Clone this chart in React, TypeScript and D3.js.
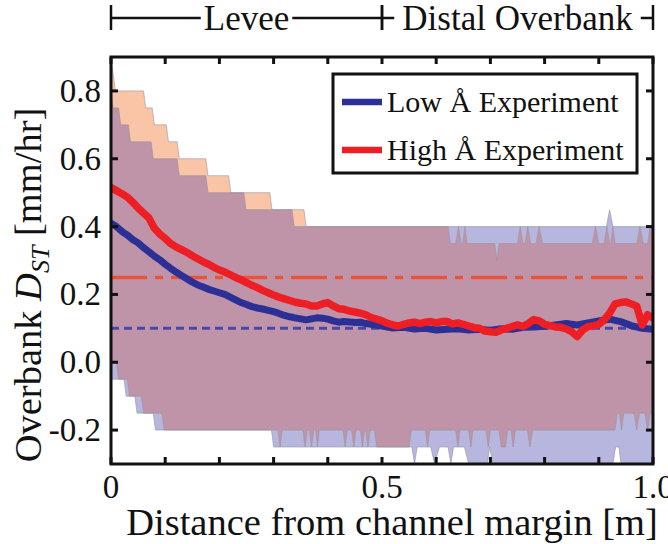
import React from 'react';
import * as d3 from 'd3';

// ---- data ----
const xTickValues = [0, 0.1, 0.2, 0.3, 0.4, 0.5, 0.6, 0.7, 0.8, 0.9, 1.0];
const xTickLabels: [number, string][] = [[0, '0'], [0.5, '0.5'], [1.0, '1.0']];
const yTickValues = [-0.2, 0, 0.2, 0.4, 0.6, 0.8];
const yTickLabels = ['-0.2', '0.0', '0.2', '0.4', '0.6', '0.8'];

const zones = [
  { name: 'Levee', from: 0, to: 0.5 },
  { name: 'Distal Overbank', from: 0.5, to: 1.0 },
];

const seriesNames = ['Low Å Experiment', 'High Å Experiment'];

// reference rates (mm/hr)
const lowReference = 0.1;
const highReference = 0.25;

// envelope of Low Å run: upper and lower edges [x, rate]
const lowUpper: [number, number][] = [
  [0, 0.8], [0.004, 0.75], [0.014, 0.75], [0.018, 0.7], [0.032, 0.7], [0.036, 0.65],
  [0.074, 0.65], [0.078, 0.6], [0.122, 0.6], [0.126, 0.55], [0.175, 0.55], [0.179, 0.5],
  [0.245, 0.5], [0.249, 0.45], [0.334, 0.45], [0.338, 0.4], [0.914, 0.4], [0.92, 0.45],
  [0.926, 0.4], [1, 0.4],
];
const lowLower: [number, number][] = [
  [0, -0.05], [0.024, -0.05], [0.028, -0.1], [0.044, -0.1], [0.048, -0.15], [0.078, -0.15],
  [0.082, -0.2], [0.296, -0.2], [0.3, -0.25], [0.555, -0.25], [0.56, -0.3], [0.565, -0.25],
  [0.59, -0.25], [0.597, -0.3], [0.606, -0.25], [0.622, -0.25], [0.627, -0.3], [0.632, -0.25],
  [0.652, -0.25], [0.66, -0.3], [0.694, -0.3], [0.699, -0.25], [0.704, -0.3], [0.926, -0.3],
  [0.931, -0.25], [0.937, -0.25], [0.941, -0.3], [1, -0.3],
];

// envelope of High Å run
const highUpper: [number, number][] = [
  [0, 0.9], [0.008, 0.8], [0.06, 0.8], [0.064, 0.75], [0.076, 0.75], [0.08, 0.7],
  [0.102, 0.7], [0.106, 0.65], [0.122, 0.65], [0.126, 0.6], [0.175, 0.6], [0.179, 0.55],
  [0.217, 0.55], [0.221, 0.5], [0.293, 0.5], [0.297, 0.45], [0.356, 0.45], [0.36, 0.4],
  [0.622, 0.4], [0.626, 0.35], [0.636, 0.35], [0.641, 0.4], [0.646, 0.35], [0.649, 0.35],
  [0.653, 0.4], [0.657, 0.35], [0.708, 0.35], [0.712, 0.3], [0.716, 0.35], [0.75, 0.35],
  [0.755, 0.4], [0.76, 0.35], [0.764, 0.35], [0.769, 0.4], [0.774, 0.35], [0.784, 0.35],
  [0.79, 0.4], [0.796, 0.35], [0.888, 0.35], [0.894, 0.4], [0.9, 0.35], [0.91, 0.35],
  [0.915, 0.4], [0.92, 0.35], [0.922, 0.35], [0.926, 0.4], [0.93, 0.35], [0.97, 0.35],
  [0.976, 0.4], [0.982, 0.35], [0.99, 0.35], [0.995, 0.4], [1, 0.4],
];
const highLower: [number, number][] = [
  [0, 0.0], [0.01, 0.0], [0.014, -0.05], [0.03, -0.05], [0.034, -0.1], [0.056, -0.1],
  [0.06, -0.15], [0.094, -0.15], [0.098, -0.2], [0.308, -0.2], [0.312, -0.25], [0.316, -0.2],
  [0.354, -0.2], [0.358, -0.25], [0.362, -0.2], [0.366, -0.2], [0.37, -0.25], [0.374, -0.2],
  [0.378, -0.2], [0.381, -0.25], [0.384, -0.2], [0.428, -0.2], [0.432, -0.25], [0.436, -0.2],
  [0.444, -0.2], [0.448, -0.25], [0.452, -0.2], [0.46, -0.2], [0.464, -0.25], [0.468, -0.2],
  [0.47, -0.2], [0.474, -0.25], [0.478, -0.2], [0.486, -0.2], [0.49, -0.25], [0.55, -0.25],
  [0.554, -0.2], [0.58, -0.2], [0.584, -0.25], [0.588, -0.2], [0.636, -0.2], [0.64, -0.25],
  [0.644, -0.2], [0.66, -0.2], [0.664, -0.25], [0.668, -0.2], [0.692, -0.2], [0.696, -0.25],
  [0.7, -0.2], [0.716, -0.2], [0.72, -0.25], [0.728, -0.25], [0.732, -0.2], [0.738, -0.2],
  [0.742, -0.25], [0.746, -0.2], [0.768, -0.2], [0.773, -0.25], [0.778, -0.2], [0.93, -0.2],
  [0.934, -0.15], [0.938, -0.15], [0.942, -0.2], [0.946, -0.15], [0.965, -0.15], [0.97, -0.2],
  [0.975, -0.15], [0.985, -0.15], [0.99, -0.2], [0.995, -0.15], [1, -0.15],
];

// mean deposition rate along the transect
const lowMean: [number, number][] = [
  [0, 0.41], [0.01, 0.4], [0.02, 0.386], [0.03, 0.375], [0.04, 0.362], [0.05, 0.352],
  [0.06, 0.338], [0.07, 0.326], [0.08, 0.313], [0.09, 0.302], [0.1, 0.289], [0.11, 0.277],
  [0.12, 0.266], [0.13, 0.256], [0.14, 0.246], [0.15, 0.236], [0.16, 0.228], [0.17, 0.222],
  [0.18, 0.215], [0.19, 0.21], [0.2, 0.205], [0.21, 0.2], [0.22, 0.192], [0.23, 0.184],
  [0.24, 0.176], [0.25, 0.17], [0.26, 0.164], [0.27, 0.16], [0.28, 0.157], [0.29, 0.153],
  [0.3, 0.149], [0.31, 0.144], [0.32, 0.138], [0.33, 0.134], [0.34, 0.131], [0.35, 0.128],
  [0.36, 0.125], [0.37, 0.128], [0.38, 0.131], [0.39, 0.13], [0.4, 0.127], [0.41, 0.122],
  [0.42, 0.118], [0.43, 0.12], [0.44, 0.119], [0.45, 0.117], [0.46, 0.118], [0.47, 0.114],
  [0.48, 0.112], [0.49, 0.11], [0.5, 0.107], [0.52, 0.101], [0.54, 0.103], [0.56, 0.098],
  [0.58, 0.1], [0.6, 0.095], [0.62, 0.097], [0.64, 0.099], [0.66, 0.095], [0.68, 0.097],
  [0.7, 0.094], [0.72, 0.099], [0.74, 0.097], [0.76, 0.103], [0.78, 0.104], [0.8, 0.106],
  [0.82, 0.11], [0.84, 0.114], [0.86, 0.11], [0.88, 0.116], [0.9, 0.122], [0.92, 0.127],
  [0.94, 0.12], [0.96, 0.108], [0.98, 0.1], [1, 0.097],
];
const highMean: [number, number][] = [
  [0, 0.515], [0.01, 0.506], [0.02, 0.497], [0.03, 0.487], [0.04, 0.472], [0.05, 0.455],
  [0.06, 0.44], [0.07, 0.425], [0.08, 0.395], [0.09, 0.378], [0.1, 0.365], [0.11, 0.35],
  [0.12, 0.34], [0.13, 0.332], [0.14, 0.324], [0.15, 0.314], [0.16, 0.305], [0.17, 0.296],
  [0.18, 0.289], [0.19, 0.28], [0.2, 0.272], [0.21, 0.266], [0.22, 0.258], [0.23, 0.25],
  [0.24, 0.243], [0.25, 0.235], [0.26, 0.227], [0.27, 0.22], [0.28, 0.212], [0.29, 0.205],
  [0.3, 0.198], [0.31, 0.192], [0.32, 0.187], [0.33, 0.182], [0.34, 0.177], [0.35, 0.174],
  [0.36, 0.172], [0.37, 0.166], [0.38, 0.166], [0.39, 0.172], [0.4, 0.176], [0.41, 0.166],
  [0.42, 0.158], [0.43, 0.156], [0.44, 0.151], [0.45, 0.148], [0.46, 0.145], [0.47, 0.14],
  [0.48, 0.132], [0.49, 0.127], [0.5, 0.122], [0.51, 0.115], [0.52, 0.11], [0.53, 0.107],
  [0.54, 0.112], [0.55, 0.116], [0.56, 0.118], [0.57, 0.114], [0.58, 0.118], [0.59, 0.12],
  [0.6, 0.116], [0.61, 0.12], [0.62, 0.12], [0.63, 0.113], [0.64, 0.116], [0.65, 0.112],
  [0.66, 0.107], [0.67, 0.102], [0.68, 0.1], [0.69, 0.092], [0.7, 0.09], [0.71, 0.088],
  [0.72, 0.095], [0.73, 0.1], [0.74, 0.105], [0.75, 0.11], [0.76, 0.106], [0.77, 0.114],
  [0.78, 0.126], [0.79, 0.122], [0.8, 0.112], [0.81, 0.108], [0.82, 0.104], [0.83, 0.103],
  [0.84, 0.098], [0.85, 0.09], [0.86, 0.076], [0.87, 0.095], [0.88, 0.105], [0.89, 0.108],
  [0.9, 0.112], [0.91, 0.125], [0.92, 0.145], [0.93, 0.172], [0.94, 0.176], [0.95, 0.178],
  [0.96, 0.172], [0.97, 0.165], [0.98, 0.11], [0.99, 0.14], [1, 0.13],
];

// ---- layout ----
const W = 668;
const H = 544;
const left = 111;
const right = 653;
const top = 57;
const bottom = 464;
const FONT = "'Liberation Serif', 'Times New Roman', Tinos, 'DejaVu Serif', serif";

const COLORS = {
  lowBand: '#b6b6de',
  highBand: '#fac4a7',
  overlap: '#bf94a9',
  bandEdge: '#8f8f9f',
  lowLine: '#2c2f95',
  highLine: '#ee1f24',
  lowRef: '#4b47a8',
  highRef: '#e8533c',
};

const textStyle: React.CSSProperties = { fontFamily: FONT };

export default function App() {
  const x = d3.scaleLinear().domain([0, 1]).range([left, right]);
  const y = d3.scaleLinear().domain([-0.3, 0.9]).range([bottom, top]);

  const bandPath = (upper: [number, number][], lower: [number, number][]) => {
    const line = d3.line<[number, number]>().x((d) => x(d[0])).y((d) => y(d[1]));
    const up = line(upper) || '';
    const lowRev = line([...lower].reverse()) || '';
    return up + 'L' + lowRev.slice(1) + 'Z';
  };
  const edge = d3.line<[number, number]>().x((d) => x(d[0])).y((d) => y(d[1]));

  const lowBand = bandPath(lowUpper, lowLower);
  const highBand = bandPath(highUpper, highLower);

  const tick = 7;

  return (
    <svg
      width={W}
      height={H}
      viewBox={`0 0 ${W} ${H}`}
      style={{ position: 'absolute', left: 0, top: 0, background: '#fff', fontFamily: FONT }}
    >
      <defs>
        <clipPath id="plot-area">
          <rect x={left} y={top} width={right - left} height={bottom - top} />
        </clipPath>
        <clipPath id="low-band-clip">
          <path d={lowBand} />
        </clipPath>
      </defs>

      {/* zone brackets */}
      <g stroke="#111" strokeWidth={2.5} fill="none">
        {zones.map((z) => (
          <g key={z.name}>
            <line x1={x(z.from)} x2={x(z.to)} y1={18} y2={18} />
            <line x1={x(z.from)} x2={x(z.from)} y1={5} y2={30} />
            <line x1={x(z.to)} x2={x(z.to)} y1={5} y2={30} />
          </g>
        ))}
      </g>
      {zones.map((z) => {
        const cx = (x(z.from) + x(z.to)) / 2;
        const w = z.name.length * 15.5 + 14;
        return (
          <g key={z.name + '-t'}>
            <rect x={cx - w / 2} y={4} width={w} height={28} fill="#fff" />
            <text x={cx} y={30} textAnchor="middle" fontSize={35} fill="#111" style={textStyle}>
              {z.name}
            </text>
          </g>
        );
      })}

      {/* envelopes */}
      <g clipPath="url(#plot-area)">
        <path d={lowBand} fill={COLORS.lowBand} />
        <path d={highBand} fill={COLORS.highBand} />
        <path d={highBand} fill={COLORS.overlap} clipPath="url(#low-band-clip)" />
        <g fill="none" stroke={COLORS.bandEdge} strokeWidth={1} strokeOpacity={0.55}>
          <path d={edge(lowUpper) || ''} />
          <path d={edge(lowLower) || ''} />
          <path d={edge(highUpper) || ''} />
          <path d={edge(highLower) || ''} />
        </g>

        {/* reference rates */}
        <line
          x1={left}
          x2={right}
          y1={y(highReference)}
          y2={y(highReference)}
          stroke={COLORS.highRef}
          strokeWidth={3.5}
          strokeDasharray="36 8 8 8"
        />
        <line
          x1={left}
          x2={right}
          y1={y(lowReference)}
          y2={y(lowReference)}
          stroke={COLORS.lowRef}
          strokeWidth={3}
          strokeDasharray="8 5"
        />

        {/* means */}
        <path
          d={edge(lowMean) || ''}
          fill="none"
          stroke={COLORS.lowLine}
          strokeWidth={7}
          strokeLinejoin="round"
          strokeLinecap="round"
        />
        <path
          d={edge(highMean) || ''}
          fill="none"
          stroke={COLORS.highLine}
          strokeWidth={7.5}
          strokeLinejoin="round"
          strokeLinecap="round"
        />
      </g>

      {/* frame and ticks */}
      <rect x={left} y={top} width={right - left} height={bottom - top} fill="none" stroke="#111" strokeWidth={3} />
      <g stroke="#111" strokeWidth={3}>
        {xTickValues.map((v) => (
          <g key={'xt' + v}>
            <line x1={x(v)} x2={x(v)} y1={bottom} y2={bottom - tick} />
            <line x1={x(v)} x2={x(v)} y1={top} y2={top + tick} />
          </g>
        ))}
        {yTickValues.map((v) => (
          <g key={'yt' + v}>
            <line x1={left} x2={left + tick} y1={y(v)} y2={y(v)} />
            <line x1={right} x2={right - tick} y1={y(v)} y2={y(v)} />
          </g>
        ))}
      </g>

      {/* tick labels */}
      <g fontSize={33} fill="#111">
        {xTickLabels.map(([v, s]) => (
          <text key={'xl' + v} x={x(v)} y={bottom + 34} textAnchor="middle" style={textStyle}>
            {s}
          </text>
        ))}
        {yTickValues.map((v, i) => (
          <text key={'yl' + v} x={left - 10} y={y(v) + 11} textAnchor="end" style={textStyle}>
            {yTickLabels[i]}
          </text>
        ))}
      </g>

      {/* axis titles */}
      <text x={392} y={535} textAnchor="middle" fontSize={38.5} fill="#111" style={textStyle}>
        Distance from channel margin [m]
      </text>
      <text
        transform={`translate(41, 285) rotate(-90)`}
        textAnchor="middle"
        fontSize={38.5}
        fill="#111"
        style={textStyle}
      >
        Overbank <tspan fontStyle="italic">D</tspan>
        <tspan fontStyle="italic" fontSize={26} dy={8}>
          ST
        </tspan>
        <tspan dy={-8}> [mm/hr]</tspan>
      </text>

      {/* legend */}
      <rect x={333} y={74} width={304} height={99} fill="#fff" stroke="#111" strokeWidth={3} />
      {seriesNames.map((name, i) => {
        const ly = 102 + i * 48;
        return (
          <g key={name}>
            <line
              x1={342}
              x2={382}
              y1={ly}
              y2={ly}
              stroke={i === 0 ? COLORS.lowLine : COLORS.highLine}
              strokeWidth={6.5}
            />
            <text x={387} y={ly + 10} fontSize={30} fill="#111" style={textStyle}>
              {name}
            </text>
          </g>
        );
      })}
    </svg>
  );
}
